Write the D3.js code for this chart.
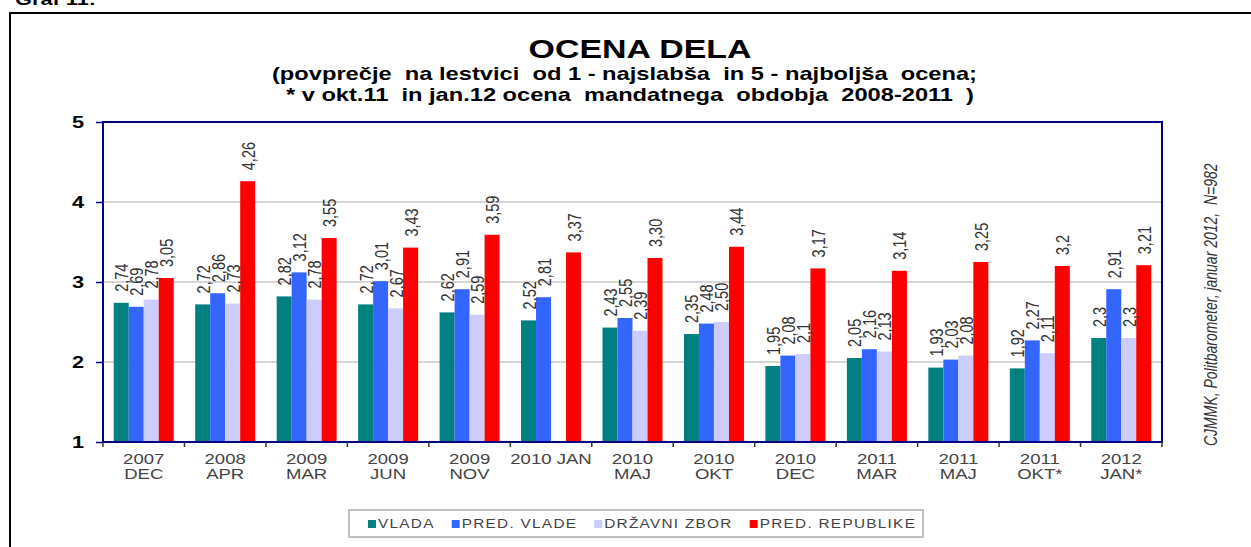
<!DOCTYPE html>
<html lang="sl">
<head>
<meta charset="utf-8">
<script src="https://cdn.jsdelivr.net/npm/d3@7"></script>
<style>
  body { margin: 0; background: #fff; }
  svg { display: block; font-family: "Liberation Sans", Arial, sans-serif; }
</style>
</head>
<body>
<div id="chart"></div>
<script>
// data
const categories = ["2007 DEC", "2008 APR", "2009 MAR", "2009 JUN", "2009 NOV", "2010 JAN",
  "2010 MAJ", "2010 OKT", "2010 DEC", "2011 MAR", "2011 MAJ", "2011 OKT*", "2012 JAN*"];
const tickLines = [["2007", "DEC"], ["2008", "APR"], ["2009", "MAR"], ["2009", "JUN"], ["2009", "NOV"],
  ["2010 JAN"], ["2010", "MAJ"], ["2010", "OKT"], ["2010", "DEC"], ["2011", "MAR"], ["2011", "MAJ"],
  ["2011", "OKT*"], ["2012", "JAN*"]];
const seriesNames = ["VLADA", "PRED. VLADE", "DRŽAVNI ZBOR", "PRED. REPUBLIKE"];
const seriesColors = ["#008080", "#3366ff", "#ccccff", "#ff0000"];
const vlada = ["2,74", "2,72", "2,82", "2,72", "2,62", "2,52", "2,43", "2,35", "1,95", "2,05", "1,93", "1,92", "2,3"];
const predVlade = ["2,69", "2,86", "3,12", "3,01", "2,91", "2,81", "2,55", "2,48", "2,08", "2,16", "2,03", "2,27", "2,91"];
const drzavniZbor = ["2,78", "2,73", "2,78", "2,67", "2,59", null, "2,39", "2,50", "2,1", "2,13", "2,08", "2,11", "2,3"];
const predRepublike = ["3,05", "4,26", "3,55", "3,43", "3,59", "3,37", "3,30", "3,44", "3,17", "3,14", "3,25", "3,2", "3,21"];
const yTicks = [1, 2, 3, 4, 5];

const W = 1251, H = 547;
const SX = 1.28; // the picture is stretched sideways
const plot = { left: 103, right: 1162, top: 122, bottom: 442 };

const svg = d3.select("#chart").append("svg")
  .attr("width", W).attr("height", H);
svg.append("rect").attr("width", W).attr("height", H).attr("fill", "#fff");

// outer frame
svg.append("path")
  .attr("d", `M10,${H + 2}V13H${W + 2}`)
  .attr("fill", "none").attr("stroke", "#000").attr("stroke-width", 2);

svg.append("text")
  .attr("transform", `translate(15,5) scale(${SX},1)`)
  .attr("font-size", 17).attr("font-weight", "bold")
  .text("Graf 11:");

// titles
svg.append("text")
  .attr("transform", `translate(640,58) scale(${SX},1)`)
  .attr("text-anchor", "middle").attr("font-size", 26.5).attr("font-weight", "bold")
  .text("OCENA DELA");
svg.append("text")
  .attr("transform", `translate(272,80) scale(${SX},1)`)
  .attr("font-size", 18.5).attr("font-weight", "bold")
  .attr("textLength", 705 / SX).attr("lengthAdjust", "spacing")
  .style("white-space", "pre")
  .text("(povprečje  na lestvici  od 1 - najslabša  in 5 - najboljša  ocena;");
svg.append("text")
  .attr("transform", `translate(286,101) scale(${SX},1)`)
  .attr("font-size", 18.5).attr("font-weight", "bold")
  .attr("textLength", 688 / SX).attr("lengthAdjust", "spacing")
  .style("white-space", "pre")
  .text("* v okt.11  in jan.12 ocena  mandatnega  obdobja  2008-2011  )");

// scales
const x0 = d3.scaleBand().domain(categories).range([plot.left, plot.right]).padding(0);
const x1 = d3.scaleBand().domain(seriesNames).range([0, x0.bandwidth()])
  .paddingInner(0).paddingOuter(0.715);
const y = d3.scaleLinear().domain([1, 5]).range([plot.bottom, plot.top]);

// gridlines
svg.append("g").selectAll("line")
  .data(yTicks.filter(t => t > 1 && t < 5))
  .join("line")
  .attr("x1", plot.left).attr("x2", plot.right)
  .attr("y1", d => y(d)).attr("y2", d => y(d))
  .attr("stroke", "#c8c8c8").attr("stroke-width", 1.5);

// bars
const series = [vlada, predVlade, drzavniZbor, predRepublike];
const rows = [];
series.forEach((vals, si) => {
  vals.forEach((s, ci) => {
    if (s === null) return;
    rows.push({ cat: categories[ci], name: seriesNames[si], color: seriesColors[si],
      label: s, value: +s.replace(",", ".") });
  });
});

svg.append("g").selectAll("rect")
  .data(rows)
  .join("rect")
  .attr("x", d => x0(d.cat) + x1(d.name))
  .attr("y", d => y(d.value))
  .attr("width", x1.bandwidth())
  .attr("height", d => y(1) - y(d.value))
  .attr("fill", d => d.color);

// data labels, rotated
svg.append("g").selectAll("text")
  .data(rows)
  .join("text")
  .attr("transform", d => {
    const cx = x0(d.cat) + x1(d.name) + x1.bandwidth() / 2 + 7;
    return `translate(${cx},${y(d.value) - 11}) scale(${SX},1) rotate(-90)`;
  })
  .attr("font-size", 14.5).attr("fill", "#333")
  .text(d => d.label);

// axes
const axisColor = "#000080";
svg.append("rect")
  .attr("x", plot.left).attr("y", plot.top)
  .attr("width", plot.right - plot.left).attr("height", plot.bottom - plot.top)
  .attr("fill", "none").attr("stroke", axisColor).attr("stroke-width", 2);

const yAxis = svg.append("g").attr("transform", `translate(${plot.left},0)`)
  .call(d3.axisLeft(y).tickValues(yTicks).tickSize(7).tickFormat(""));
yAxis.select(".domain").remove();
yAxis.selectAll("line").attr("stroke", axisColor).attr("stroke-width", 1.5);

svg.append("g").selectAll("text")
  .data(yTicks)
  .join("text")
  .attr("transform", d => `translate(84,${y(d) + 6}) scale(${SX},1)`)
  .attr("text-anchor", "end").attr("font-size", 17).attr("font-weight", "bold")
  .text(d => d);

// x ticks sit on the band edges
svg.append("g").selectAll("line")
  .data(categories.map(c => x0(c)).concat([x0.range()[1]]))
  .join("line")
  .attr("x1", d => d).attr("x2", d => d)
  .attr("y1", plot.bottom).attr("y2", plot.bottom + 5)
  .attr("stroke", "#333").attr("stroke-width", 1.5);

const xl = svg.append("g").selectAll("g")
  .data(categories)
  .join("g")
  .attr("transform", d => `translate(${x0(d) + x0.bandwidth() / 2},0)`);
xl.each(function (d, i) {
  tickLines[i].forEach((t, k) => {
    d3.select(this).append("text")
      .attr("transform", `translate(0,${464 + k * 15}) scale(${SX},1)`)
      .attr("text-anchor", "middle").attr("font-size", 14.5).attr("fill", "#444")
      .text(t);
  });
});

// source note
svg.append("text")
  .attr("transform", `translate(1217,446) scale(${SX},1) rotate(-90)`)
  .attr("font-size", 14).attr("font-style", "italic").attr("fill", "#333")
  .style("white-space", "pre")
  .text("CJMMK, Politbarometer, januar 2012,  N=982");

// legend
const legend = svg.append("g");
legend.append("rect")
  .attr("x", 349).attr("y", 510).attr("width", 574).attr("height", 27)
  .attr("fill", "#fff").attr("stroke", "#c0c0c0").attr("stroke-width", 2);
let lx = 368;
seriesNames.forEach((name, i) => {
  legend.append("rect")
    .attr("x", lx).attr("y", 520).attr("width", 8).attr("height", 8)
    .attr("fill", seriesColors[i]);
  const t = legend.append("text")
    .attr("transform", `translate(${lx + 10},528) scale(${SX},1)`)
    .attr("font-size", 12).attr("letter-spacing", 1).attr("fill", "#444")
    .text(name);
  lx += 10 + t.node().getComputedTextLength() * SX + 17;
});
</script>
</body>
</html>
